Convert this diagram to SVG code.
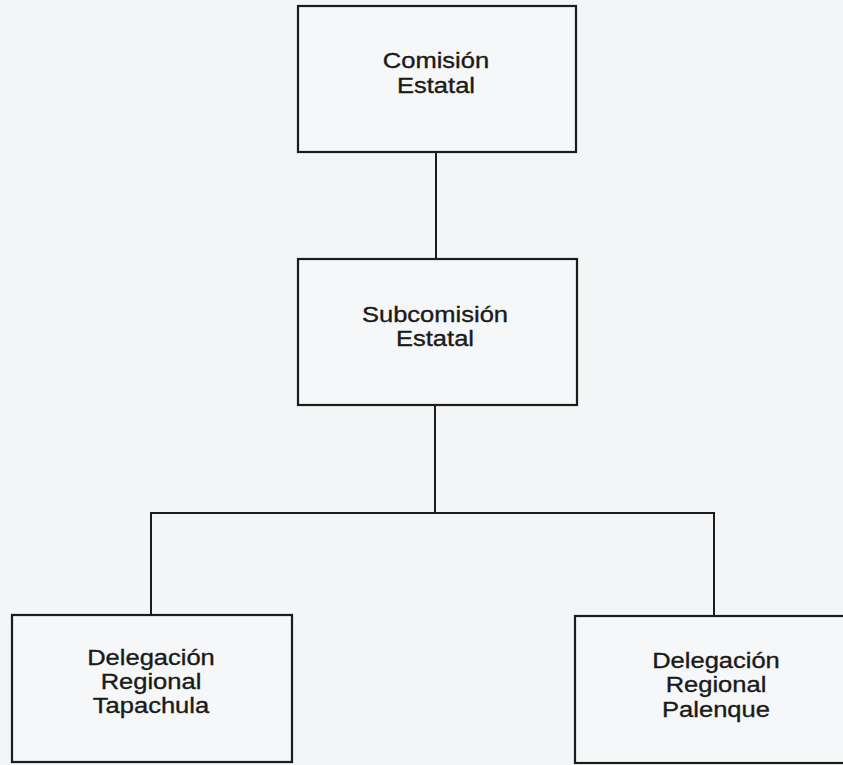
<svg xmlns="http://www.w3.org/2000/svg" width="843" height="765" viewBox="0 0 843 765">
<style>
.bg{fill:#f3f5f6}
.box{fill:#f6f7f8;stroke:#1c1c1c;stroke-width:2.2}
.con{fill:none;stroke:#1c1c1c;stroke-width:2}
text{font-family:"Liberation Sans",Arial,sans-serif;font-size:22px;fill:#1a1a1a;stroke:#1a1a1a;stroke-width:0.35;text-anchor:middle}
</style>
<rect class="bg" x="0" y="0" width="843" height="765"/>
<g id="connectors">
<line class="con" x1="436" y1="152" x2="436" y2="259"/>
<line class="con" x1="435" y1="405" x2="435" y2="513"/>
<polyline class="con" points="151,615 151,513 714,513 714,616"/>
</g>
<g id="comision">
<rect class="box" x="298" y="6" width="278" height="146"/>
<g transform="translate(436,0) scale(1.16,1)"><text x="0" y="68">Comisión</text><text x="0" y="93">Estatal</text></g>
</g>
<g id="subcomision">
<rect class="box" x="298" y="259" width="279" height="146"/>
<g transform="translate(435,0) scale(1.16,1)"><text x="0" y="322">Subcomisión</text><text x="0" y="346">Estatal</text></g>
</g>
<g id="tapachula">
<rect class="box" x="12" y="615" width="280" height="147"/>
<g transform="translate(151,0) scale(1.16,1)"><text x="0" y="665">Delegación</text><text x="0" y="689">Regional</text><text x="0" y="713">Tapachula</text></g>
</g>
<g id="palenque">
<rect class="box" x="575" y="616" width="290" height="147"/>
<g transform="translate(716,0) scale(1.16,1)"><text x="0" y="668">Delegación</text><text x="0" y="692">Regional</text><text x="0" y="717">Palenque</text></g>
</g>
</svg>
